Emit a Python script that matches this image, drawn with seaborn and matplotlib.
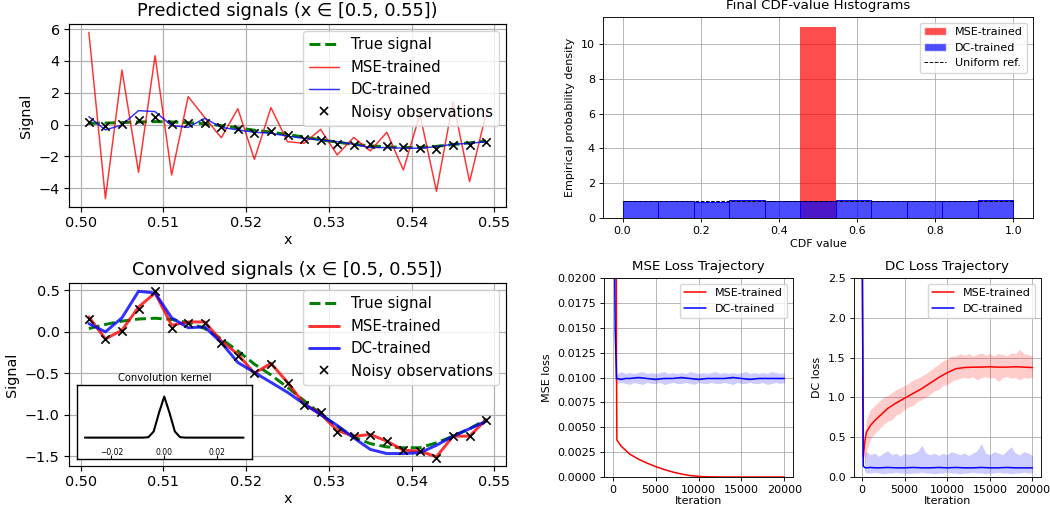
import numpy as np
import pandas as pd
import matplotlib
matplotlib.use("Agg")
import matplotlib.pyplot as plt
from matplotlib.lines import Line2D
from matplotlib.patches import Patch
from matplotlib.ticker import FormatStrFormatter
import seaborn as sns

# ---------------- data ----------------
x_grid = [0.501, 0.503, 0.505, 0.507, 0.509, 0.511, 0.513, 0.515, 0.517, 0.519,
          0.521, 0.523, 0.525, 0.527, 0.529, 0.531, 0.533, 0.535, 0.537, 0.539,
          0.541, 0.543, 0.545, 0.547, 0.549]

noisy_obs = [0.16, -0.09, 0.01, 0.28, 0.49, 0.05, 0.11, 0.11, -0.14, -0.29,
             -0.50, -0.39, -0.62, -0.88, -0.97, -1.21, -1.26, -1.24, -1.32, -1.43,
             -1.44, -1.52, -1.26, -1.26, -1.06]

pred_true = [0.08, 0.10, 0.13, 0.17, 0.19, 0.17, 0.12, 0.06, -0.06, -0.20,
             -0.35, -0.47, -0.62, -0.78, -0.95, -1.10, -1.24, -1.33, -1.39, -1.43,
             -1.43, -1.36, -1.25, -1.14, -1.03]
pred_mse = [5.80, -4.65, 3.43, -2.99, 4.33, -3.16, 1.76, 0.45, -0.82, 1.00,
            -2.18, 1.07, -1.07, -1.17, -0.30, -1.90, -0.80, -1.65, -0.48, -2.85,
            0.65, -4.18, 1.44, -3.58, 0.70]
pred_dc = [0.50, -0.33, -0.02, 0.88, 0.82, -0.06, -0.17, 0.40, -0.17, -0.33,
           -0.48, -0.54, -0.72, -0.86, -0.96, -1.07, -1.23, -1.44, -1.44, -1.48,
           -1.48, -1.38, -1.23, -1.17, -1.07]

conv_true = [0.04, 0.09, 0.13, 0.155, 0.165, 0.15, 0.11, 0.04, -0.085, -0.23,
             -0.39, -0.52, -0.67, -0.83, -0.99, -1.14, -1.27, -1.35, -1.39, -1.40,
             -1.40, -1.34, -1.26, -1.17, -1.06]
conv_mse = [0.18, -0.085, 0.02, 0.30, 0.47, 0.08, 0.12, 0.12, -0.11, -0.27,
            -0.50, -0.38, -0.61, -0.87, -0.99, -1.19, -1.26, -1.24, -1.32, -1.43,
            -1.44, -1.51, -1.26, -1.26, -1.06]
conv_dc = [0.10, 0.00, 0.17, 0.49, 0.47, 0.17, 0.05, 0.06, -0.13, -0.37,
           -0.49, -0.61, -0.73, -0.87, -1.00, -1.13, -1.28, -1.42, -1.47, -1.47,
           -1.46, -1.37, -1.26, -1.17, -1.08]

kernel_x = [-0.030, -0.028, -0.026, -0.024, -0.022, -0.020, -0.018, -0.016, -0.014, -0.012,
            -0.010, -0.008, -0.006, -0.004, -0.002, 0.000, 0.002, 0.004, 0.006, 0.008,
            0.010, 0.012, 0.014, 0.016, 0.018, 0.020, 0.022, 0.024, 0.026, 0.028, 0.030]
kernel_y = [0, 0, 0, 0, 0, 0, 0, 0, 0, 0,
            0, 0, 0.01, 0.15, 0.60, 1.00, 0.60, 0.15, 0.01, 0,
            0, 0, 0, 0, 0, 0, 0, 0, 0, 0, 0]

cdf_edges = [0.0, 0.0909, 0.1818, 0.2727, 0.3636, 0.4545, 0.5455, 0.6364, 0.7273, 0.8182, 0.9091, 1.0]
hist_mse = [0, 0, 0, 0, 0, 11.0, 0, 0, 0, 0, 0]
hist_dc = [1.0, 1.0, 0.91, 1.06, 1.0, 1.0, 1.06, 1.0, 1.0, 1.0, 1.06]
uniform_x = [0.0, 1.0]
uniform_y = [1.0, 1.0]

loss_iters = [0, 150, 300, 450, 500, 1000, 1500, 2000, 3000, 4000, 5000, 6000, 7000,
              8000, 9000, 10000, 11000, 12000, 13000, 14000, 15000, 16000, 17000,
              18000, 19000, 20000]
mse_loss_mse = [0.5, 0.3, 0.1, 0.012, 0.0037, 0.0031, 0.0027, 0.0023, 0.0018, 0.0014,
                0.00105, 0.00075, 0.0005, 0.0003, 0.00015, 0.00006, 0.00002, 0.00001,
                0.0, 0.0, 0.0, 0.0, 0.0, 0.0, 0.0, 0.0]
mse_loss_dc = [0.5, 0.03, 0.015, 0.0099, 0.0099, 0.0098, 0.0099, 0.0099, 0.0100, 0.0099,
               0.0098, 0.0099, 0.0099, 0.0100, 0.0099, 0.0098, 0.0099, 0.0099, 0.0099,
               0.0100, 0.0099, 0.0098, 0.0099, 0.0099, 0.0099, 0.0099]
dc_loss_mse = [3.5, 0.25, 0.42, 0.53, 0.56, 0.65, 0.71, 0.76, 0.86, 0.93,
               0.99, 1.05, 1.11, 1.18, 1.25, 1.31, 1.36, 1.375, 1.38, 1.38,
               1.385, 1.38, 1.38, 1.385, 1.38, 1.375]
dc_loss_dc = [3.5, 0.14, 0.12, 0.115, 0.115, 0.12, 0.115, 0.115, 0.12, 0.115,
              0.115, 0.12, 0.115, 0.115, 0.12, 0.115, 0.12, 0.115, 0.115, 0.12,
              0.115, 0.115, 0.12, 0.115, 0.115, 0.115]

band_iters = [300, 500, 1000, 1500, 2000, 2500, 3000, 3500, 4000, 4500,
              5000, 5500, 6000, 6500, 7000, 7500, 8000, 8500, 9000, 9500,
              10000, 10500, 11000, 11500, 12000, 12500, 13000, 13500, 14000, 14500,
              15000, 15500, 16000, 16500, 17000, 17500, 18000, 18500, 19000, 19500, 20000]
mse_band_dc_lo = [0.0095, 0.0094, 0.0095, 0.0094, 0.0093, 0.0095, 0.0094, 0.0093, 0.0095, 0.0094,
                  0.0094, 0.0095, 0.0093, 0.0094, 0.0095, 0.0094, 0.0094, 0.0095, 0.0094, 0.0093,
                  0.0095, 0.0094, 0.0094, 0.0095, 0.0094, 0.0094, 0.0095, 0.0094, 0.0093, 0.0095,
                  0.0094, 0.0094, 0.0095, 0.0094, 0.0094, 0.0095, 0.0093, 0.0094, 0.0095, 0.0094, 0.0095]
mse_band_dc_hi = [0.0105, 0.0104, 0.0106, 0.0104, 0.0105, 0.0104, 0.0105, 0.0106, 0.0104, 0.0105,
                  0.0104, 0.0105, 0.0106, 0.0104, 0.0105, 0.0104, 0.0105, 0.0104, 0.0106, 0.0105,
                  0.0104, 0.0105, 0.0104, 0.0105, 0.0106, 0.0104, 0.0105, 0.0104, 0.0105, 0.0104,
                  0.0105, 0.0106, 0.0104, 0.0105, 0.0104, 0.0105, 0.0104, 0.0106, 0.0105, 0.0104, 0.0105]
dc_band_mse_lo = [0.15, 0.30, 0.48, 0.55, 0.60, 0.66, 0.70, 0.72, 0.78, 0.80,
                  0.85, 0.88, 0.90, 0.95, 0.97, 1.00, 1.04, 1.08, 1.10, 1.15,
                  1.16, 1.20, 1.22, 1.24, 1.25, 1.24, 1.26, 1.22, 1.25, 1.26,
                  1.24, 1.25, 1.20, 1.25, 1.26, 1.24, 1.25, 1.22, 1.25, 1.24, 1.26]
dc_band_mse_hi = [0.50, 0.72, 0.85, 0.90, 0.95, 1.00, 1.02, 1.06, 1.10, 1.12,
                  1.15, 1.18, 1.22, 1.24, 1.27, 1.30, 1.34, 1.38, 1.42, 1.46,
                  1.48, 1.52, 1.52, 1.55, 1.53, 1.55, 1.52, 1.54, 1.56, 1.53,
                  1.55, 1.52, 1.55, 1.54, 1.52, 1.56, 1.55, 1.60, 1.55, 1.54, 1.52]
dc_band_dc_lo = [0.07, 0.05, 0.05, 0.06, 0.05, 0.04, 0.05, 0.05, 0.06, 0.05,
                 0.05, 0.04, 0.05, 0.05, 0.06, 0.05, 0.05, 0.04, 0.05, 0.05,
                 0.06, 0.05, 0.05, 0.04, 0.05, 0.05, 0.06, 0.05, 0.05, 0.04,
                 0.05, 0.05, 0.06, 0.05, 0.05, 0.04, 0.05, 0.05, 0.06, 0.05, 0.05]
dc_band_dc_hi = [0.30, 0.32, 0.28, 0.30, 0.26, 0.30, 0.33, 0.28, 0.30, 0.26,
                 0.30, 0.28, 0.30, 0.32, 0.40, 0.30, 0.28, 0.30, 0.27, 0.30,
                 0.28, 0.32, 0.30, 0.28, 0.30, 0.27, 0.30, 0.33, 0.42, 0.30,
                 0.28, 0.32, 0.30, 0.28, 0.33, 0.38, 0.30, 0.28, 0.32, 0.30, 0.27]

# ---------------- style ----------------
sns.set_style("ticks", {"axes.edgecolor": "black", "xtick.color": "black",
                        "ytick.color": "black", "text.color": "black",
                        "axes.labelcolor": "black", "grid.color": "#b0b0b0"})
plt.rcParams['font.family'] = ['DejaVu Sans']

fig = plt.figure(figsize=(10.5, 5.08), dpi=100)
W, H = 1050.0, 508.0


def add_ax(left, top, right, bottom):
    return fig.add_axes([left / W, 1 - bottom / H, (right - left) / W, (bottom - top) / H])


def style_ax(ax, tick_fs, lw):
    ax.grid(True, color="#b0b0b0", linewidth=0.8 * lw)
    ax.tick_params(labelsize=tick_fs, length=3.5 * lw, width=0.8 * lw, direction="out",
                   pad=3.0)
    for s in ax.spines.values():
        s.set_linewidth(0.8 * lw)
        s.set_color("black")


LS = 1.067   # left-side scale
RS = 0.8     # right-side scale
LFS = 10.4
RFS = 8.0


def signal_panel(ax, true_v, mse_v, dc_v, lw_pred, title):
    sns.lineplot(x=x_grid, y=true_v, ax=ax, color="green", linestyle="--", linewidth=2 * LS)
    sns.lineplot(x=x_grid, y=mse_v, ax=ax, color="red", alpha=0.8, linewidth=lw_pred)
    sns.lineplot(x=x_grid, y=dc_v, ax=ax, color="blue", alpha=0.8, linewidth=lw_pred)
    sns.scatterplot(x=x_grid, y=noisy_obs, ax=ax, marker="x", color="black", s=36,
                    linewidth=1.2, zorder=5)
    ax.set_title(title, fontsize=12.8)
    ax.set_xlabel("x", fontsize=LFS, labelpad=2)
    ax.set_ylabel("Signal", fontsize=LFS)
    ax.set_xticks([0.50, 0.51, 0.52, 0.53, 0.54, 0.55])
    ax.xaxis.set_major_formatter(FormatStrFormatter('%.2f'))
    style_ax(ax, LFS, LS)
    handles = [Line2D([], [], color="green", linestyle="--", linewidth=2 * LS),
               Line2D([], [], color="red", alpha=0.8, linewidth=lw_pred),
               Line2D([], [], color="blue", alpha=0.8, linewidth=lw_pred),
               Line2D([], [], color="black", marker="x", linestyle="none",
                      markersize=6, markeredgewidth=1.2)]
    ax.legend(handles, ["True signal", "MSE-trained", "DC-trained", "Noisy observations"],
              loc="upper right", fontsize=10.7)


# --- top-left
ax1 = add_ax(69, 24, 506, 207)
signal_panel(ax1, pred_true, pred_mse, pred_dc, 1.07, "Predicted signals (x \u2208 [0.5, 0.55])")
ax1.set_yticks([-4, -2, 0, 2, 4, 6])

# --- bottom-left
ax2 = add_ax(69, 283, 506, 466)
signal_panel(ax2, conv_true, conv_mse, conv_dc, 2 * LS, "Convolved signals (x \u2208 [0.5, 0.55])")
ax2.set_yticks([-1.5, -1.0, -0.5, 0.0, 0.5])

# --- inset kernel
axk = add_ax(77, 385, 251.5, 459)
sns.lineplot(x=kernel_x, y=kernel_y, ax=axk, color="black", linewidth=1.5)
axk.set_ylim(-0.52, 1.28)
axk.set_yticks([])
axk.set_xticks([-0.02, 0.0, 0.02])
axk.tick_params(axis="x", direction="in", pad=-8, labelsize=5.5, length=3, width=0.8)
axk.set_title("Convolution kernel", fontsize=7.2, pad=3)
axk.set_facecolor("white")
for s in axk.spines.values():
    s.set_linewidth(1.0)

# --- histogram
ax3 = add_ax(603, 17, 1033, 218)
centers = [(cdf_edges[i] + cdf_edges[i + 1]) / 2 for i in range(len(cdf_edges) - 1)]
sns.histplot(x=centers, weights=hist_mse, bins=cdf_edges, stat="count", ax=ax3,
             color="red", alpha=0.7, edgecolor="none", linewidth=0)
sns.histplot(x=centers, weights=hist_dc, bins=cdf_edges, stat="count", ax=ax3,
             color="blue", alpha=0.7, edgecolor="blue", linewidth=0.7)
sns.lineplot(x=uniform_x, y=uniform_y, ax=ax3, color="black", linestyle="--", linewidth=0.7)
ax3.set_title("Final CDF-value Histograms", fontsize=9.6)
ax3.set_xlabel("CDF value", fontsize=RFS, labelpad=2)
ax3.set_ylabel("Empirical probability density", fontsize=RFS)
style_ax(ax3, RFS, RS)
ax3.legend([Patch(facecolor="red", alpha=0.7), Patch(facecolor="blue", alpha=0.7),
            Line2D([], [], color="black", linestyle="--", linewidth=0.7)],
           ["MSE-trained", "DC-trained", "Uniform ref."], loc="upper right", fontsize=RFS)

# --- MSE loss
ax4 = add_ax(604, 278, 793, 477)
ax4.fill_between(band_iters, mse_band_dc_lo, mse_band_dc_hi, color="blue", alpha=0.2, linewidth=0)
sns.lineplot(x=loss_iters, y=mse_loss_mse, ax=ax4, color="red", linewidth=1.1)
sns.lineplot(x=loss_iters, y=mse_loss_dc, ax=ax4, color="blue", linewidth=1.1)
ax4.set_ylim(0, 0.02)
ax4.set_xticks([0, 5000, 10000, 15000, 20000])
ax4.yaxis.set_major_formatter(FormatStrFormatter('%.4f'))
ax4.set_title("MSE Loss Trajectory", fontsize=9.6)
ax4.set_xlabel("Iteration", fontsize=RFS, labelpad=1)
ax4.set_ylabel("MSE loss", fontsize=RFS)
style_ax(ax4, RFS, RS)
ax4.legend([Line2D([], [], color="red", linewidth=1.1), Line2D([], [], color="blue", linewidth=1.1)],
           ["MSE-trained", "DC-trained"], loc="upper right", fontsize=RFS)

# --- DC loss
ax5 = add_ax(853.5, 278, 1041, 477)
ax5.fill_between(band_iters, dc_band_mse_lo, dc_band_mse_hi, color="red", alpha=0.2, linewidth=0)
ax5.fill_between(band_iters, dc_band_dc_lo, dc_band_dc_hi, color="blue", alpha=0.2, linewidth=0)
sns.lineplot(x=loss_iters, y=dc_loss_mse, ax=ax5, color="red", linewidth=1.1)
sns.lineplot(x=loss_iters, y=dc_loss_dc, ax=ax5, color="blue", linewidth=1.1)
ax5.set_ylim(0, 2.5)
ax5.set_xticks([0, 5000, 10000, 15000, 20000])
ax5.set_title("DC Loss Trajectory", fontsize=9.6)
ax5.set_xlabel("Iteration", fontsize=RFS, labelpad=1)
ax5.set_ylabel("DC loss", fontsize=RFS)
style_ax(ax5, RFS, RS)
ax5.legend([Line2D([], [], color="red", linewidth=1.1), Line2D([], [], color="blue", linewidth=1.1)],
           ["MSE-trained", "DC-trained"], loc="upper right", fontsize=RFS)

fig.savefig("out.png", dpi=100)
